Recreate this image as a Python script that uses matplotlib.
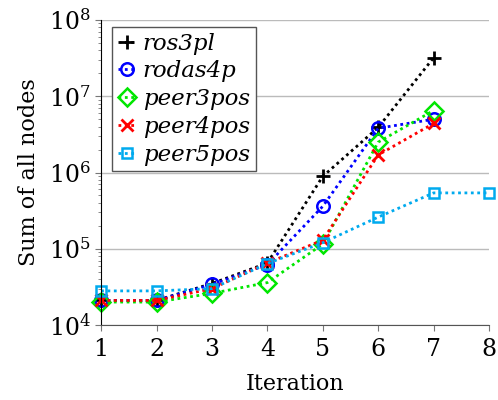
import numpy as np
import matplotlib.pyplot as plt

plt.rcParams['font.family'] = 'DejaVu Serif'
plt.rcParams['mathtext.fontset'] = 'dejavuserif'

# iteration counts and node totals per method
iters = [1, 2, 3, 4, 5, 6, 7, 8]
ros3pl = [2.1e4, 2.1e4, 3.5e4, 6.5e4, 8.9e5, 3.9e6, 3.2e7]
rodas4p = [2.1e4, 2.1e4, 3.4e4, 6.2e4, 3.6e5, 3.8e6, 5.0e6]
peer3pos = [2.0e4, 2.0e4, 2.6e4, 3.6e4, 1.15e5, 2.5e6, 6.5e6]
peer4pos = [2.1e4, 2.1e4, 3.0e4, 6.5e4, 1.3e5, 1.7e6, 4.4e6]
peer5pos = [2.8e4, 2.8e4, 3.0e4, 6.4e4, 1.2e5, 2.6e5, 5.4e5, 5.4e5]

series = [
    ('ros3pl', ros3pl, 'black', '+', dict(markersize=10, markeredgewidth=2)),
    ('rodas4p', rodas4p, 'blue', 'o', dict(markersize=9, markeredgewidth=1.8, markerfacecolor='none')),
    ('peer3pos', peer3pos, '#00e600', 'D', dict(markersize=9, markeredgewidth=1.8, markerfacecolor='none')),
    ('peer4pos', peer4pos, 'red', 'x', dict(markersize=8, markeredgewidth=2)),
    ('peer5pos', peer5pos, '#00aaee', 's', dict(markersize=7, markeredgewidth=1.8, markerfacecolor='none')),
]

fig = plt.figure(figsize=(4.98, 4.0), dpi=100)
ax = fig.add_axes([0.203, 0.1875, 0.779, 0.7625])

for name, vals, col, mk, kw in series:
    ax.plot(iters[:len(vals)], vals, linestyle=(0, (1, 1.3)), linewidth=2, color=col,
            marker=mk, markeredgecolor=col, label=name, clip_on=False, **kw)

ax.set_yscale('log')
ax.set_xlim(1, 8)
ax.set_ylim(1e4, 1e8)
ax.set_xticks(iters)
ax.set_yticks([1e4, 1e5, 1e6, 1e7, 1e8])
ax.grid(True, axis='y', which='major', color='#bbbbbb', linewidth=1)
ax.set_axisbelow(True)

ax.spines['top'].set_visible(False)
ax.spines['right'].set_visible(False)
ax.spines['left'].set_color('black')
ax.spines['bottom'].set_color('#555555')
ax.tick_params(axis='both', which='major', labelsize=17, color='#777777', length=4)
ax.tick_params(axis='x', which='major', pad=5)
ax.tick_params(axis='y', which='minor', color='#777777', length=2.5)

ax.set_xlabel('Iteration', fontsize=16, labelpad=9)
ax.set_ylabel('Sum of all nodes', fontsize=16, labelpad=6)

leg = ax.legend(loc='upper left', prop={'style': 'italic', 'size': 16.5},
                handlelength=0.8, handletextpad=0.3, labelspacing=0.25,
                borderpad=0.25, borderaxespad=0.3, fancybox=False, framealpha=1,
                bbox_to_anchor=(0.01, 1.0))
leg.get_frame().set_edgecolor('#555555')
leg.get_frame().set_linewidth(1)

fig.savefig('out.png', dpi=100)
